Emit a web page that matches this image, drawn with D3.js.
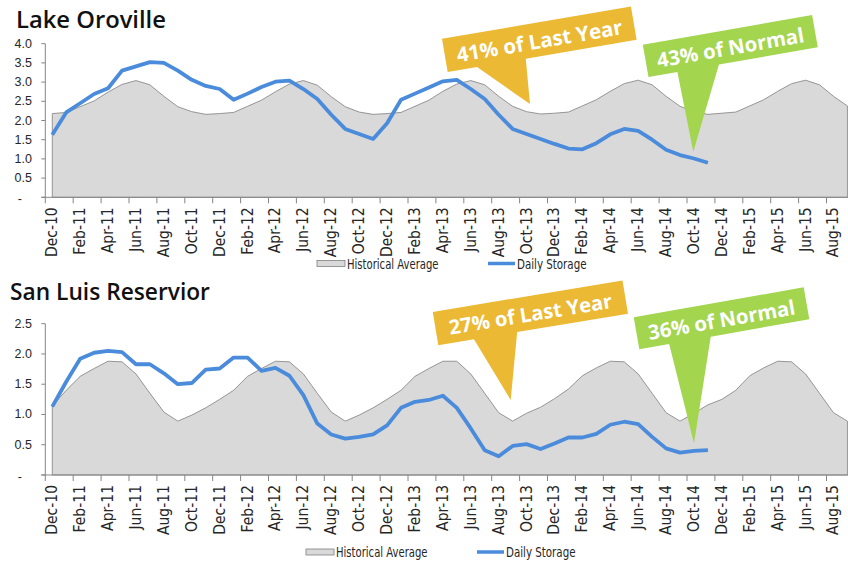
<!DOCTYPE html>
<html>
<head>
<meta charset="utf-8">
<script src="https://cdn.jsdelivr.net/npm/d3@7"></script>
<style>
  body { margin: 0; background: #fff; }
  svg { display: block; }
</style>
</head>
<body>
<svg id="chart" width="848" height="562"></svg>
<script>
// month categories, Dec-10 .. Sep-15
const months = [
  "Dec-10",
  "Jan-11","Feb-11","Mar-11","Apr-11","May-11","Jun-11","Jul-11","Aug-11","Sep-11","Oct-11","Nov-11","Dec-11",
  "Jan-12","Feb-12","Mar-12","Apr-12","May-12","Jun-12","Jul-12","Aug-12","Sep-12","Oct-12","Nov-12","Dec-12",
  "Jan-13","Feb-13","Mar-13","Apr-13","May-13","Jun-13","Jul-13","Aug-13","Sep-13","Oct-13","Nov-13","Dec-13",
  "Jan-14","Feb-14","Mar-14","Apr-14","May-14","Jun-14","Jul-14","Aug-14","Sep-14","Oct-14","Nov-14","Dec-14",
  "Jan-15","Feb-15","Mar-15","Apr-15","May-15","Jun-15","Jul-15","Aug-15","Sep-15"
];

const orovilleHistorical = [
  2.18,2.21,2.36,2.51,2.74,2.94,3.04,2.93,2.63,2.36,2.23,2.16,
  2.18,2.21,2.37,2.53,2.75,2.95,3.04,2.92,2.62,2.36,2.22,2.16,
  2.18,2.21,2.37,2.53,2.76,2.95,3.04,2.93,2.63,2.37,2.23,2.17,
  2.19,2.22,2.38,2.54,2.76,2.96,3.05,2.93,2.63,2.37,2.23,2.16,
  2.19,2.22,2.38,2.54,2.76,2.96,3.05,2.93,2.63,2.38
];
const orovilleStorage = [
  1.63,2.21,2.45,2.69,2.84,3.30,3.41,3.52,3.50,3.30,3.06,2.90,
  2.82,2.54,2.70,2.87,3.01,3.04,2.82,2.56,2.15,1.78,1.65,1.52,
  1.93,2.54,2.70,2.86,3.02,3.06,2.82,2.56,2.15,1.78,1.65,1.52,
  1.39,1.27,1.25,1.41,1.64,1.78,1.73,1.50,1.24,1.10,1.01,0.90
];
const orovilleTicks = [0, 0.5, 1, 1.5, 2, 2.5, 3, 3.5, 4];

const sanLuisHistorical = [
  1.14,1.40,1.63,1.76,1.88,1.87,1.67,1.35,1.04,0.89,0.99,1.11,
  1.25,1.40,1.63,1.76,1.88,1.87,1.67,1.35,1.04,0.89,0.99,1.11,
  1.25,1.40,1.63,1.76,1.88,1.88,1.67,1.35,1.03,0.89,1.02,1.12,
  1.26,1.42,1.64,1.77,1.88,1.87,1.67,1.35,1.03,0.89,1.02,1.16,
  1.25,1.40,1.64,1.77,1.88,1.87,1.67,1.35,1.03,0.89
];
const sanLuisStorage = [
  1.13,1.54,1.92,2.02,2.05,2.03,1.83,1.83,1.68,1.50,1.52,1.74,
  1.76,1.94,1.94,1.72,1.77,1.64,1.32,0.85,0.67,0.60,0.63,0.67,
  0.82,1.11,1.21,1.24,1.31,1.11,0.77,0.41,0.31,0.48,0.51,0.43,
  0.52,0.62,0.62,0.68,0.83,0.88,0.84,0.63,0.44,0.37,0.40,0.41
];
const sanLuisTicks = [0, 0.5, 1, 1.5, 2, 2.5];

const seriesNames = ["Historical Average", "Daily Storage"];

const BLUE = "#4a8bdb";
const AREA = "#d9d9d9";
const AXIS = "#868686";
const ORANGE = "#ebb933";
const GREEN = "#a3d54f";
const TEXT = "#262626";
const NARROW = "'Liberation Sans Narrow', 'Arial Narrow', 'DejaVu Sans Condensed', sans-serif";

const svg = d3.select("#chart");

// one shared category scale for both panels
const x = d3.scaleBand()
  .domain(months)
  .range([45.3, 45.3 + months.length * 13.95]);
const cx = (m) => x(m) + x.bandwidth() / 2;

function fitText(sel, width) {
  const node = sel.node();
  const size = parseFloat(sel.attr("font-size"));
  const len = node.getComputedTextLength();
  sel.attr("font-size", (size * width / len).toFixed(2));
}

function drawPanel(p) {
  const g = svg.append("g");
  const y = d3.scaleLinear().domain([0, p.yMax]).range([p.yBottom, p.yTop]);

  // title
  const t = g.append("text")
    .attr("x", p.titleX)
    .attr("y", p.titleY)
    .attr("font-family", "'Open Sans', 'DejaVu Sans', sans-serif")
    .attr("font-weight", 600)
    .attr("font-size", 22)
    .attr("fill", "#111")
    .text(p.title);
  fitText(t, p.titleW);

  // historical average area
  const area = d3.area()
    .x((d, i) => cx(months[i]))
    .y0(y(0))
    .y1((d) => y(d));
  g.append("path")
    .datum(p.hist)
    .attr("d", area)
    .attr("fill", AREA)
    .attr("stroke", "#7f7f7f")
    .attr("stroke-width", 0.8);

  // y axis
  g.append("line")
    .attr("x1", x.range()[0]).attr("x2", x.range()[0])
    .attr("y1", y(0)).attr("y2", y(p.yMax))
    .attr("stroke", AXIS);
  g.selectAll(".ytick")
    .data(p.ticks)
    .join("line")
    .attr("x1", x.range()[0] - 4).attr("x2", x.range()[0])
    .attr("y1", (d) => y(d)).attr("y2", (d) => y(d))
    .attr("stroke", AXIS);
  g.selectAll(".ylab")
    .data(p.ticks)
    .join("text")
    .attr("x", (d) => (d === 0 ? 22 : 32))
    .attr("y", (d) => y(d) + (d === 0 ? 2 : 0))
    .attr("text-anchor", "end")
    .attr("dominant-baseline", "central")
    .attr("font-family", "'Liberation Sans', Arial, sans-serif")
    .attr("font-size", 12.5)
    .attr("fill", TEXT)
    .text((d) => (d === 0 ? "-" : d3.format(".1f")(d)));

  // x axis
  g.append("line")
    .attr("x1", x.range()[0] - 4).attr("x2", x.range()[1])
    .attr("y1", y(0)).attr("y2", y(0))
    .attr("stroke", AXIS);
  const shown = months.filter((m, i) => i % 2 === 0);
  g.selectAll(".xtick")
    .data(shown)
    .join("line")
    .attr("x1", (d) => x(d)).attr("x2", (d) => x(d))
    .attr("y1", y(0)).attr("y2", y(0) + 6)
    .attr("stroke", AXIS);
  g.selectAll(".xlab")
    .data(shown)
    .join("text")
    .attr("transform", (d) => `translate(${cx(d)},${y(0) + 10}) rotate(-90)`)
    .attr("text-anchor", "end")
    .attr("dominant-baseline", "central")
    .attr("font-family", NARROW)
    .attr("font-size", 15.5)
    .attr("fill", TEXT)
    .text((d) => d);

  // daily storage line
  const line = d3.line()
    .x((d, i) => cx(months[i]))
    .y((d) => y(d));
  g.append("path")
    .datum(p.storage)
    .attr("d", line)
    .attr("fill", "none")
    .attr("stroke", BLUE)
    .attr("stroke-width", 3.8)
    .attr("stroke-linejoin", "round");

  // callouts
  p.callouts.forEach((c) => {
    const r = (c.angle * Math.PI) / 180;
    const cos = Math.cos(r), sin = Math.sin(r);
    const P = (lx, ly) => [c.cx + lx * cos - ly * sin, c.cy + lx * sin + ly * cos];
    const w = c.w / 2, h = c.h / 2;
    const pts = [P(-w, -h), P(w, -h), P(w, h), P(c.b, h), c.tip, P(c.a, h), P(-w, h)];
    g.append("path")
      .attr("d", "M" + pts.map((q) => q.join(",")).join("L") + "Z")
      .attr("fill", c.fill);
    const ct = g.append("text")
      .attr("transform", `translate(${c.cx},${c.cy + 1}) rotate(${c.angle})`)
      .attr("text-anchor", "middle")
      .attr("dominant-baseline", "central")
      .attr("font-family", "'Open Sans', 'DejaVu Sans', sans-serif")
      .attr("font-weight", 700)
      .attr("font-size", 19)
      .attr("fill", "#fff")
      .text(c.text);
    fitText(ct, c.textW);
  });

  // legend
  const lg = g.append("g").attr("transform", `translate(0,${p.legendY})`);
  lg.append("rect")
    .attr("x", p.legendX).attr("y", -3).attr("width", 28).attr("height", 6)
    .attr("fill", AREA).attr("stroke", "#7f7f7f").attr("stroke-width", 0.8);
  lg.append("line")
    .attr("x1", p.legendX + 171).attr("x2", p.legendX + 198)
    .attr("y1", 0).attr("y2", 0)
    .attr("stroke", BLUE).attr("stroke-width", 3.5);
  const legendW = [91.5, 69.5];
  [p.legendX + 30, p.legendX + 200].forEach((lx, i) => {
    lg.append("text")
      .attr("x", lx).attr("y", 0)
      .attr("dominant-baseline", "central")
      .attr("font-family", NARROW)
      .attr("font-size", 13.5)
      .attr("textLength", legendW[i])
      .attr("lengthAdjust", "spacingAndGlyphs")
      .attr("fill", TEXT)
      .text(seriesNames[i]);
  });
}

drawPanel({
  title: "Lake Oroville", titleX: 16, titleY: 28.3, titleW: 150,
  yMax: 4, yTop: 43.7, yBottom: 197.3, ticks: orovilleTicks,
  hist: orovilleHistorical, storage: orovilleStorage,
  legendX: 317, legendY: 263.5,
  callouts: [
    { text: "41% of Last Year", fill: ORANGE, cx: 539.3, cy: 39.3, w: 191.7, h: 33.7,
      angle: -9.7, a: -66, b: -16.6, tip: [530, 104], textW: 168 },
    { text: "43% of Normal", fill: GREEN, cx: 730.3, cy: 46, w: 171.9, h: 32.7,
      angle: -10, a: -56.6, b: -14.4, tip: [693.3, 151.7], textW: 149 }
  ]
});

drawPanel({
  title: "San Luis Reservior", titleX: 10, titleY: 300, titleW: 200,
  yMax: 2.5, yTop: 323.7, yBottom: 475, ticks: sanLuisTicks,
  hist: sanLuisHistorical, storage: sanLuisStorage,
  legendX: 306, legendY: 552,
  callouts: [
    { text: "27% of Last Year", fill: ORANGE, cx: 530.4, cy: 312.8, w: 192.3, h: 33.7,
      angle: -9.4, a: -60, b: -16.2, tip: [510.7, 400], textW: 165 },
    { text: "36% of Normal", fill: GREEN, cx: 721.5, cy: 318.3, w: 172.6, h: 32.4,
      angle: -10, a: -56, b: -13.8, tip: [694, 443.3], textW: 149 }
  ]
});
</script>
</body>
</html>
